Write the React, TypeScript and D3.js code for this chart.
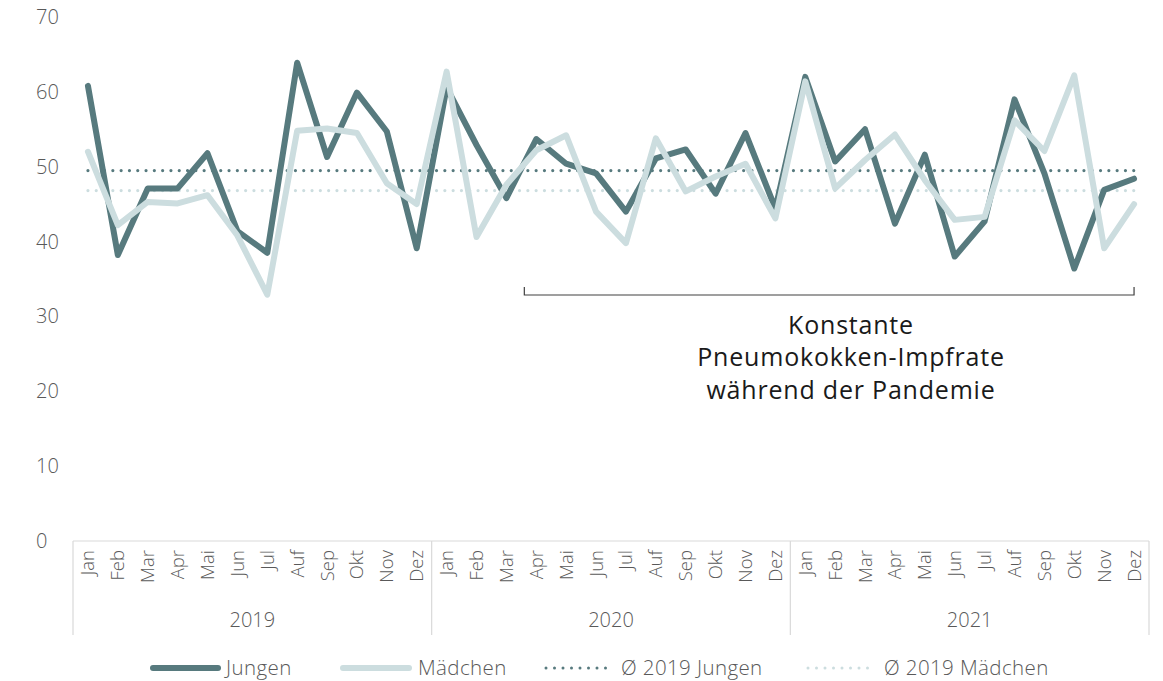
import * as d3 from "d3";
import React, { useEffect } from "react";

// month labels as printed on the chart (incl. the "Auf" typo)
const months = ["Jan", "Feb", "Mar", "Apr", "Mai", "Jun", "Jul", "Auf", "Sep", "Okt", "Nov", "Dez"];
const years = ["2019", "2020", "2021"];

// Pneumokokken-Impfrate per month, 2019-2021
const jungen = [
  60.8, 38.2, 47.1, 47.1, 51.8, 41.4, 38.5, 63.9, 51.3, 59.9, 54.7, 39.1,
  60.6, 52.9, 45.8, 53.7, 50.4, 49.1, 44.0, 51.1, 52.3, 46.4, 54.5, 44.4,
  62.0, 50.7, 55.0, 42.4, 51.6, 38.0, 42.7, 59.0, 49.1, 36.4, 46.9, 48.4,
];
const maedchen = [
  52.0, 42.2, 45.3, 45.1, 46.2, 40.8, 32.9, 54.8, 55.1, 54.5, 47.8, 45.0,
  62.7, 40.6, 47.6, 52.2, 54.2, 44.0, 39.8, 53.8, 46.7, 48.7, 50.4, 43.1,
  61.4, 47.1, 50.9, 54.3, 48.2, 42.9, 43.3, 56.2, 52.1, 62.2, 39.1, 45.0,
];
const yTicks = [0, 10, 20, 30, 40, 50, 60, 70];

const DARK = "#577a7e";
const LIGHT = "#ccdddf";
const TEXT = "#595959";
const FONT = "'Open Sans', Roboto, sans-serif";

function App() {
  useEffect(() => {
    document.body.style.margin = "0"; // svg fills the window
  }, []);

  const width = 1163;
  const height = 681;

  // one band per month
  const keys = d3.range(jungen.length);
  const x = d3.scaleBand<number>().domain(keys).range([73, 1149]);
  const cx = (i: number) => (x(i) as number) + x.bandwidth() / 2;
  const y = d3.scaleLinear().domain([0, 70]).range([541, 17]);

  const line = d3
    .line<number>()
    .x((d, i) => cx(i))
    .y((d) => y(d));

  // averages of 2019
  const avgJ = d3.mean(jungen.slice(0, 12)) as number;
  const avgM = d3.mean(maedchen.slice(0, 12)) as number;

  // bracket for the annotation (Apr 2020 .. Dez 2021)
  const bx0 = (x(15) as number) + x.bandwidth() * 0.1;
  const bx1 = cx(35);
  const by = 295;

  return (
    <svg width={width} height={height} style={{ display: "block", fontFamily: FONT }}>
      {/* y axis labels */}
      {yTicks.map((t) => (
        <text key={t} x={36} y={y(t)} dy="0.35em" fontSize={20} fontWeight={300} fill={TEXT}>
          {t}
        </text>
      ))}

      {/* category axis */}
      <line x1={73} x2={1149} y1={y(0)} y2={y(0)} stroke="#d9d9d9" strokeWidth={1.2} />
      {d3.range(years.length + 1).map((k) => {
        const xx = k < years.length ? (x(k * 12) as number) : 1149;
        return <line key={k} x1={xx} x2={xx} y1={y(0)} y2={635} stroke="#d9d9d9" strokeWidth={1.2} />;
      })}
      {keys.map((i) => (
        <text
          key={i}
          transform={`translate(${cx(i)},550) rotate(-90)`}
          textAnchor="end"
          dy="0.35em"
          fontSize={18.5}
          fontWeight={300}
          fill={TEXT}
        >
          {months[i % 12]}
        </text>
      ))}
      {years.map((yr, k) => (
        <text
          key={yr}
          x={((x(k * 12) as number) + (x(k * 12 + 11) as number) + x.bandwidth()) / 2}
          y={620}
          dy="0.35em"
          textAnchor="middle"
          fontSize={20}
          fontWeight={300}
          fill={TEXT}
        >
          {yr}
        </text>
      ))}

      {/* 2019 averages */}
      <line x1={cx(0)} x2={cx(35)} y1={y(avgM)} y2={y(avgM)} stroke={LIGHT} strokeWidth={3.2} strokeLinecap="round" strokeDasharray="0 8.3" />
      <line x1={cx(0)} x2={cx(35)} y1={y(avgJ)} y2={y(avgJ)} stroke={DARK} strokeWidth={3.2} strokeLinecap="round" strokeDasharray="0 8.3" />

      {/* series */}
      <path d={line(jungen) as string} fill="none" stroke={DARK} strokeWidth={6} strokeLinejoin="round" strokeLinecap="round" />
      <path d={line(maedchen) as string} fill="none" stroke={LIGHT} strokeWidth={6} strokeLinejoin="round" strokeLinecap="round" />

      {/* annotation */}
      <path d={`M${bx0},${by - 8}V${by}H${bx1}V${by - 8}`} fill="none" stroke="#404040" strokeWidth={1.2} />
      <g fontSize={25} fontWeight={400} fill="#1a1a1a" textAnchor="middle" letterSpacing={0.8}>
        <text x={851} y={325} dy="0.35em">Konstante</text>
        <text x={851} y={357} dy="0.35em">Pneumokokken-Impfrate</text>
        <text x={851} y={390} dy="0.35em">während der Pandemie</text>
      </g>

      {/* legend */}
      <g fontSize={20.5} fontWeight={300} fill={TEXT} letterSpacing={0.4}>
        <line x1={153} x2={218} y1={668} y2={668} stroke={DARK} strokeWidth={6} strokeLinecap="round" />
        <text x={226} y={668} dy="0.35em">Jungen</text>
        <line x1={343} x2={409} y1={668} y2={668} stroke={LIGHT} strokeWidth={6} strokeLinecap="round" />
        <text x={418} y={668} dy="0.35em">Mädchen</text>
        <line x1={546} x2={614} y1={668} y2={668} stroke={DARK} strokeWidth={3} strokeLinecap="round" strokeDasharray="0 8.5" />
        <text x={621} y={668} dy="0.35em">Ø 2019 Jungen</text>
        <line x1={808} x2={876} y1={668} y2={668} stroke={LIGHT} strokeWidth={3} strokeLinecap="round" strokeDasharray="0 8.5" />
        <text x={884} y={668} dy="0.35em">Ø 2019 Mädchen</text>
      </g>
    </svg>
  );
}

export default App;
